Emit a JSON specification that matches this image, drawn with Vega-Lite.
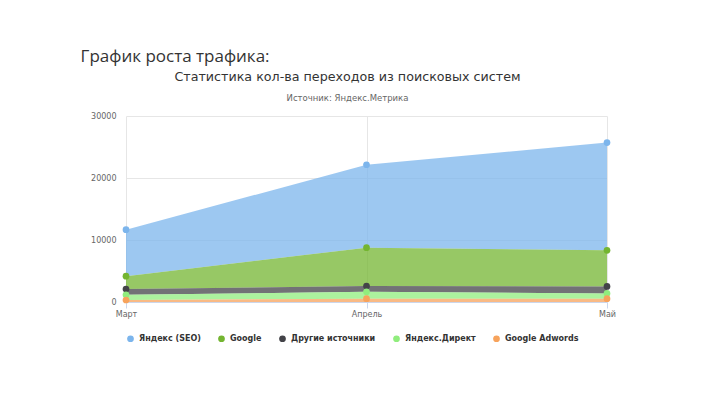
{
  "$schema": "https://vega.github.io/schema/vega-lite/v6.json",
  "background": "white",
  "padding": {"left": 80, "top": 47, "right": 5, "bottom": 5},
  "title": {"text": "График роста трафика:", "anchor": "start", "dx": -10, "font": "Open Sans", "fontSize": 17, "fontWeight": "normal", "color": "#333333", "offset": 5},
  "data": {"values": [
    {"month": "Март", "source": "Яндекс (SEO)", "value": 7490},
    {"month": "Март", "source": "Google", "value": 2085},
    {"month": "Март", "source": "Другие источники", "value": 915},
    {"month": "Март", "source": "Яндекс.Директ", "value": 850},
    {"month": "Март", "source": "Google Adwords", "value": 320},
    {"month": "Апрель", "source": "Яндекс (SEO)", "value": 13370},
    {"month": "Апрель", "source": "Google", "value": 6200},
    {"month": "Апрель", "source": "Другие источники", "value": 920},
    {"month": "Апрель", "source": "Яндекс.Директ", "value": 1120},
    {"month": "Апрель", "source": "Google Adwords", "value": 530},
    {"month": "Май", "source": "Яндекс (SEO)", "value": 17380},
    {"month": "Май", "source": "Google", "value": 5830},
    {"month": "Май", "source": "Другие источники", "value": 1120},
    {"month": "Май", "source": "Яндекс.Директ", "value": 860},
    {"month": "Май", "source": "Google Adwords", "value": 530}
  ]},
  "vconcat": [{
    "width": 481,
    "height": 186,
    "title": {"text": "Статистика кол-ва переходов из поисковых систем", "subtitle": "Источник: Яндекс.Метрика", "anchor": "middle", "dx": -19, "font": "DejaVu Sans", "fontSize": 12.7, "fontWeight": "normal", "color": "#333333", "subtitleFont": "DejaVu Sans", "subtitleFontSize": 8.5, "subtitleColor": "#666666", "subtitlePadding": 10, "offset": 10},
    "transform": [
      {"calculate": "indexof(['Google Adwords','Яндекс.Директ','Другие источники','Google','Яндекс (SEO)'], datum.source)", "as": "rank"}
    ],
    "encoding": {
      "x": {"field": "month", "type": "ordinal", "sort": ["Март", "Апрель", "Май"], "scale": {"type": "point", "padding": 0},
        "axis": {"title": null, "labelAngle": 0, "grid": true, "gridColor": "#e6e6e6", "domain": true, "domainColor": "#ccd6eb", "ticks": true, "tickColor": "#ccd6eb", "tickSize": 6, "labelPadding": 2, "labelFont": "DejaVu Sans", "labelFontSize": 8, "labelColor": "#666666"}},
      "y": {"field": "value", "type": "quantitative", "stack": "zero", "scale": {"domain": [0, 30000], "nice": false},
        "axis": {"title": null, "values": [0, 10000, 20000, 30000], "format": "d", "grid": true, "gridColor": "#e6e6e6", "domain": false, "ticks": false, "labelPadding": 10, "labelFont": "DejaVu Sans", "labelFontSize": 8, "labelColor": "#666666"}},
      "order": {"field": "rank", "type": "quantitative"},
      "color": {"field": "source", "type": "nominal",
        "scale": {"domain": ["Яндекс (SEO)", "Google", "Другие источники", "Яндекс.Директ", "Google Adwords"], "range": ["#7cb5ec", "#74b531", "#434348", "#90ed7d", "#f7a35c"]},
        "legend": {"title": null, "orient": "bottom", "direction": "horizontal", "symbolType": "circle", "symbolSize": 45, "symbolOpacity": 1, "labelFont": "DejaVu Sans", "labelFontWeight": "bold", "labelFontSize": 8, "labelColor": "#333333", "labelOffset": 4, "columnPadding": 16, "offset": 16}}
    },
    "layer": [
      {"mark": {"type": "area", "fillOpacity": 0.75}},
      {"mark": {"type": "point", "filled": true, "opacity": 1, "size": 45}}
    ]
  }],
  "config": {"view": {"stroke": null}}
}
